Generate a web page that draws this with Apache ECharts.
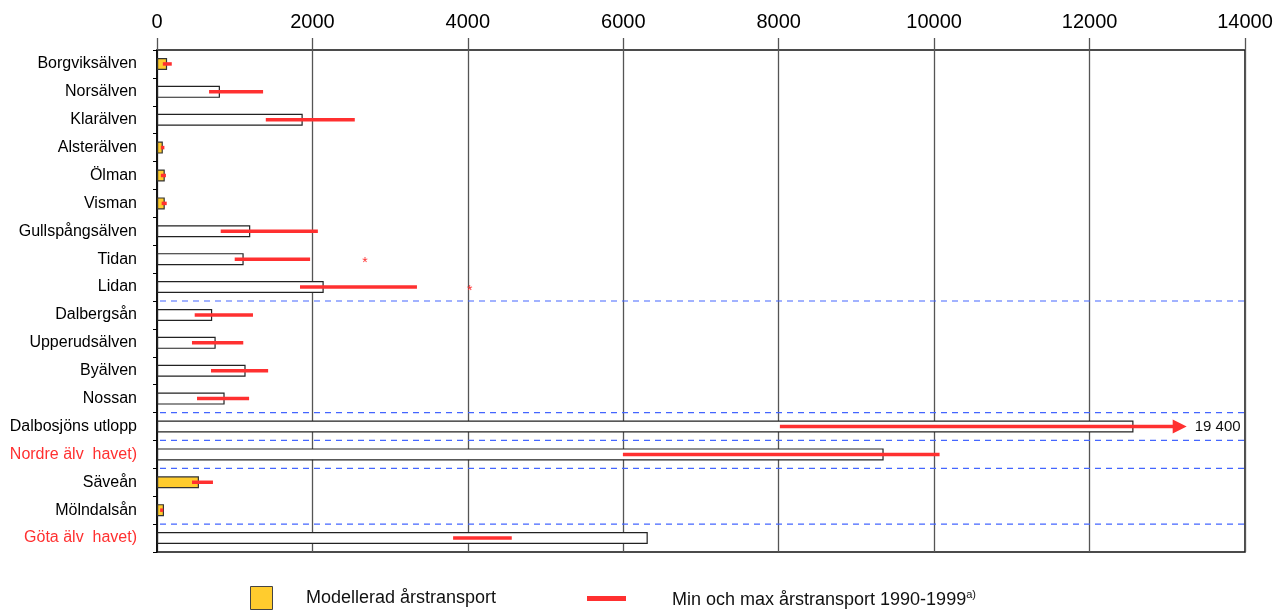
<!DOCTYPE html>
<html><head><meta charset="utf-8">
<script src="https://cdn.jsdelivr.net/npm/echarts@6/dist/echarts.min.js"></script>
<style>html,body{margin:0;padding:0;background:#fff}#c{width:1284px;height:610px}</style>
</head><body><div id="c"></div>
<script>
const categories = ['Borgviksälven','Norsälven','Klarälven','Alsterälven','Ölman','Visman','Gullspångsälven','Tidan','Lidan','Dalbergsån','Upperudsälven','Byälven','Nossan','Dalbosjöns utlopp','Nordre älv  havet)','Säveån','Mölndalsån','Göta älv  havet)'];
const redLabels = ['Nordre älv  havet)','Göta älv  havet)'];
// measured (white bars)
const measured = [null,810,1875,null,null,null,1200,1115,2145,710,755,1140,870,12565,9350,null,null,6315];
// modelled (yellow bars)
const modelled = [130,null,null,75,100,100,null,null,null,null,null,null,null,null,null,540,90,null];
// min / max annual transport 1990-1999
const minVals = [75,670,1400,50,50,60,820,1000,1840,485,450,695,515,8015,5995,450,40,3810];
const maxVals = [190,1365,2545,95,115,125,2070,1970,3345,1235,1110,1430,1185,19400,10070,720,80,4565];
const arrowCap = 13250;   // drawn end of truncated line (max shown as label)
const asterisks = [[2675,7],[4025,8]];
const separatorsAfter = [8,12,13,14,16];
const xTicks = [0,2000,4000,6000,8000,10000,12000,14000];

const chart = echarts.init(document.getElementById('c'));
const FONT = '"Liberation Sans", Arial, sans-serif';
const RED = '#ff3030';

const rangeData = categories.map((c,i)=>[minVals[i], maxVals[i], i]);

chart.setOption({
  animation:false,
  grid:{left:157,right:39,top:50,bottom:58,show:true,borderColor:'#111',borderWidth:1.5,backgroundColor:'transparent'},
  xAxis:{type:'value',position:'top',min:xTicks[0],max:xTicks[xTicks.length-1],interval:2000,
    axisLine:{show:false},
    axisTick:{show:true,length:12,lineStyle:{color:'#555',width:1.3}},
    axisLabel:{fontFamily:FONT,fontSize:20,color:'#000',margin:18,formatter:(v)=>String(v)},
    splitLine:{show:true,lineStyle:{color:'#555',width:1.3}}},
  yAxis:{type:'category',inverse:true,data:categories,
    axisLine:{show:true,lineStyle:{color:'#000',width:1.5}},
    axisTick:{show:true,length:4,lineStyle:{color:'#000'}},
    axisLabel:{fontFamily:FONT,fontSize:16,margin:20,
      color:(v)=> redLabels.includes(v)?RED:'#000'}},
  series:[
    {type:'bar',name:'measured',data:measured,barWidth:12,barGap:'-100%',
     itemStyle:{color:'#fff',borderColor:'#222',borderWidth:1.2},z:2},
    {type:'bar',name:'modelled',data:modelled,barWidth:12,barGap:'-100%',
     itemStyle:{color:'#ffcc2e',borderColor:'#333',borderWidth:1.2},z:2},
    {type:'custom',name:'sep',data:separatorsAfter.map(i=>[0,i]),encode:{x:0,y:1},z:3,
     renderItem:(params,api)=>{
       const i = api.value(1);
       const a = api.coord([0,i]), b = api.coord([0,i+1]);
       const e = api.coord([xTicks[xTicks.length-1], i]);
       const y = (a[1]+b[1])/2;
       return {type:'line',shape:{x1:a[0]+3,y1:y,x2:e[0],y2:y},
         style:{stroke:'#4466ff',lineWidth:1.2,lineDash:[6,5]}};
     }},
    {type:'custom',name:'range',data:rangeData,encode:{x:[0,1],y:2},z:5,
     renderItem:(params,api)=>{
       const lo = api.value(0), hi = api.value(1), i = api.value(2);
       const p1 = api.coord([lo,i]);
       if (hi > xTicks[xTicks.length-1]) {
         const p2 = api.coord([arrowCap,i]);
         return {type:'group',children:[
           {type:'line',shape:{x1:p1[0],y1:p1[1],x2:p2[0]-12,y2:p2[1]},style:{stroke:RED,lineWidth:3.5}},
           {type:'polygon',shape:{points:[[p2[0]-14,p2[1]-7],[p2[0],p2[1]],[p2[0]-14,p2[1]+7]]},style:{fill:RED}},
           {type:'text',x:p2[0]+8,y:p2[1],style:{text:String(hi).replace(/\B(?=(\d{3})+$)/,' '),
             fontFamily:FONT,fontSize:15,fill:'#111',verticalAlign:'middle',align:'left'}}
         ]};
       }
       const p2 = api.coord([hi,i]);
       return {type:'line',shape:{x1:p1[0],y1:p1[1],x2:p2[0],y2:p2[1]},style:{stroke:RED,lineWidth:3.5}};
     }},
    {type:'custom',name:'ast',data:asterisks,encode:{x:0,y:1},z:5,
     renderItem:(params,api)=>{
       const p = api.coord([api.value(0),api.value(1)]);
       return {type:'text',x:p[0],y:p[1]+4,style:{text:'*',fontFamily:FONT,fontSize:14,fill:RED,align:'center',verticalAlign:'middle'}};
     }}
  ],
  graphic:[
    {type:'rect',left:250,top:586,shape:{width:22,height:23},style:{fill:'#ffcc2e',stroke:'#444',lineWidth:1}},
    {type:'text',left:306,top:589,style:{text:'Modellerad årstransport',fontFamily:FONT,fontSize:18,fill:'#111'}},
    {type:'rect',left:587,top:596,shape:{width:39,height:5},style:{fill:RED}},
    {type:'text',left:672,top:589,style:{rich:{n:{fontFamily:FONT,fontSize:18,fill:'#111'},s:{fontFamily:FONT,fontSize:11,fill:'#111',verticalAlign:'top',padding:[0,0,12,0]}},
      text:'{n|Min och max årstransport 1990-1999}{s|a)}'}}
  ]
});
</script></body></html>
